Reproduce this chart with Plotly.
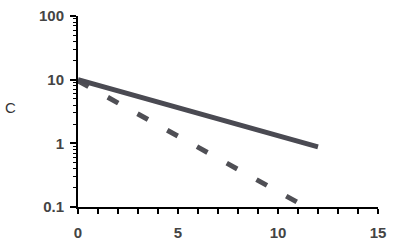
import plotly.graph_objects as go

# Data
t_solid = [0, 12]
c_solid = [10, 0.88]
t_dashed = [0, 11.05]
c_dashed = [9.6, 0.115]

x_tick_vals = [0, 5, 10, 15]
x_tick_text = ["0", "5", "10", "15"]
y_tick_vals = [0.1, 1, 10, 100]
y_tick_text = ["0.1", "1", "10", "100"]

fig = go.Figure()
fig.add_trace(go.Scatter(x=t_dashed, y=c_dashed, mode="lines",
                         line=dict(color="#4f4f55", width=5, dash="12px,22px"),
                         showlegend=False))
fig.add_trace(go.Scatter(x=t_solid, y=c_solid, mode="lines",
                         line=dict(color="#4a4a52", width=5),
                         showlegend=False))

tickfont = dict(family="Arial, Liberation Sans, sans-serif", size=15, color="#444444")

fig.update_layout(
    width=400, height=245,
    margin=dict(l=78, r=22, t=16, b=38),
    plot_bgcolor="white", paper_bgcolor="white",
    xaxis=dict(range=[0, 15], showgrid=False, zeroline=False, automargin=False,
               showline=True, linecolor="black", linewidth=2,
               tickvals=x_tick_vals, ticktext=["<b>%s</b>" % s for s in x_tick_text],
               ticks="outside", ticklen=5, tickwidth=1.5, tickcolor="black",
               tickfont=tickfont, ticklabelstandoff=6,
               minor=dict(ticks="outside", dtick=1, ticklen=5, tickwidth=1.5, tickcolor="black", showgrid=False)),
    yaxis=dict(type="log", range=[-1, 2], showgrid=False, zeroline=False, automargin=False,
               showline=True, linecolor="black", linewidth=2,
               tickvals=y_tick_vals, ticktext=["<b>%s</b>" % s for s in y_tick_text],
               ticks="outside", ticklen=6, tickwidth=1.5, tickcolor="black",
               tickfont=tickfont, ticklabelstandoff=3,
               minor=dict(ticks="outside", dtick="D1", ticklen=3, tickwidth=1, tickcolor="black", showgrid=False)),
    annotations=[dict(text="C", xref="paper", yref="paper", x=-0.225, y=0.52,
                      xanchor="center", yanchor="middle", showarrow=False,
                      font=dict(family="Arial, Liberation Sans, sans-serif", size=15, color="#333333"))],
)

fig.write_html("out.html")
